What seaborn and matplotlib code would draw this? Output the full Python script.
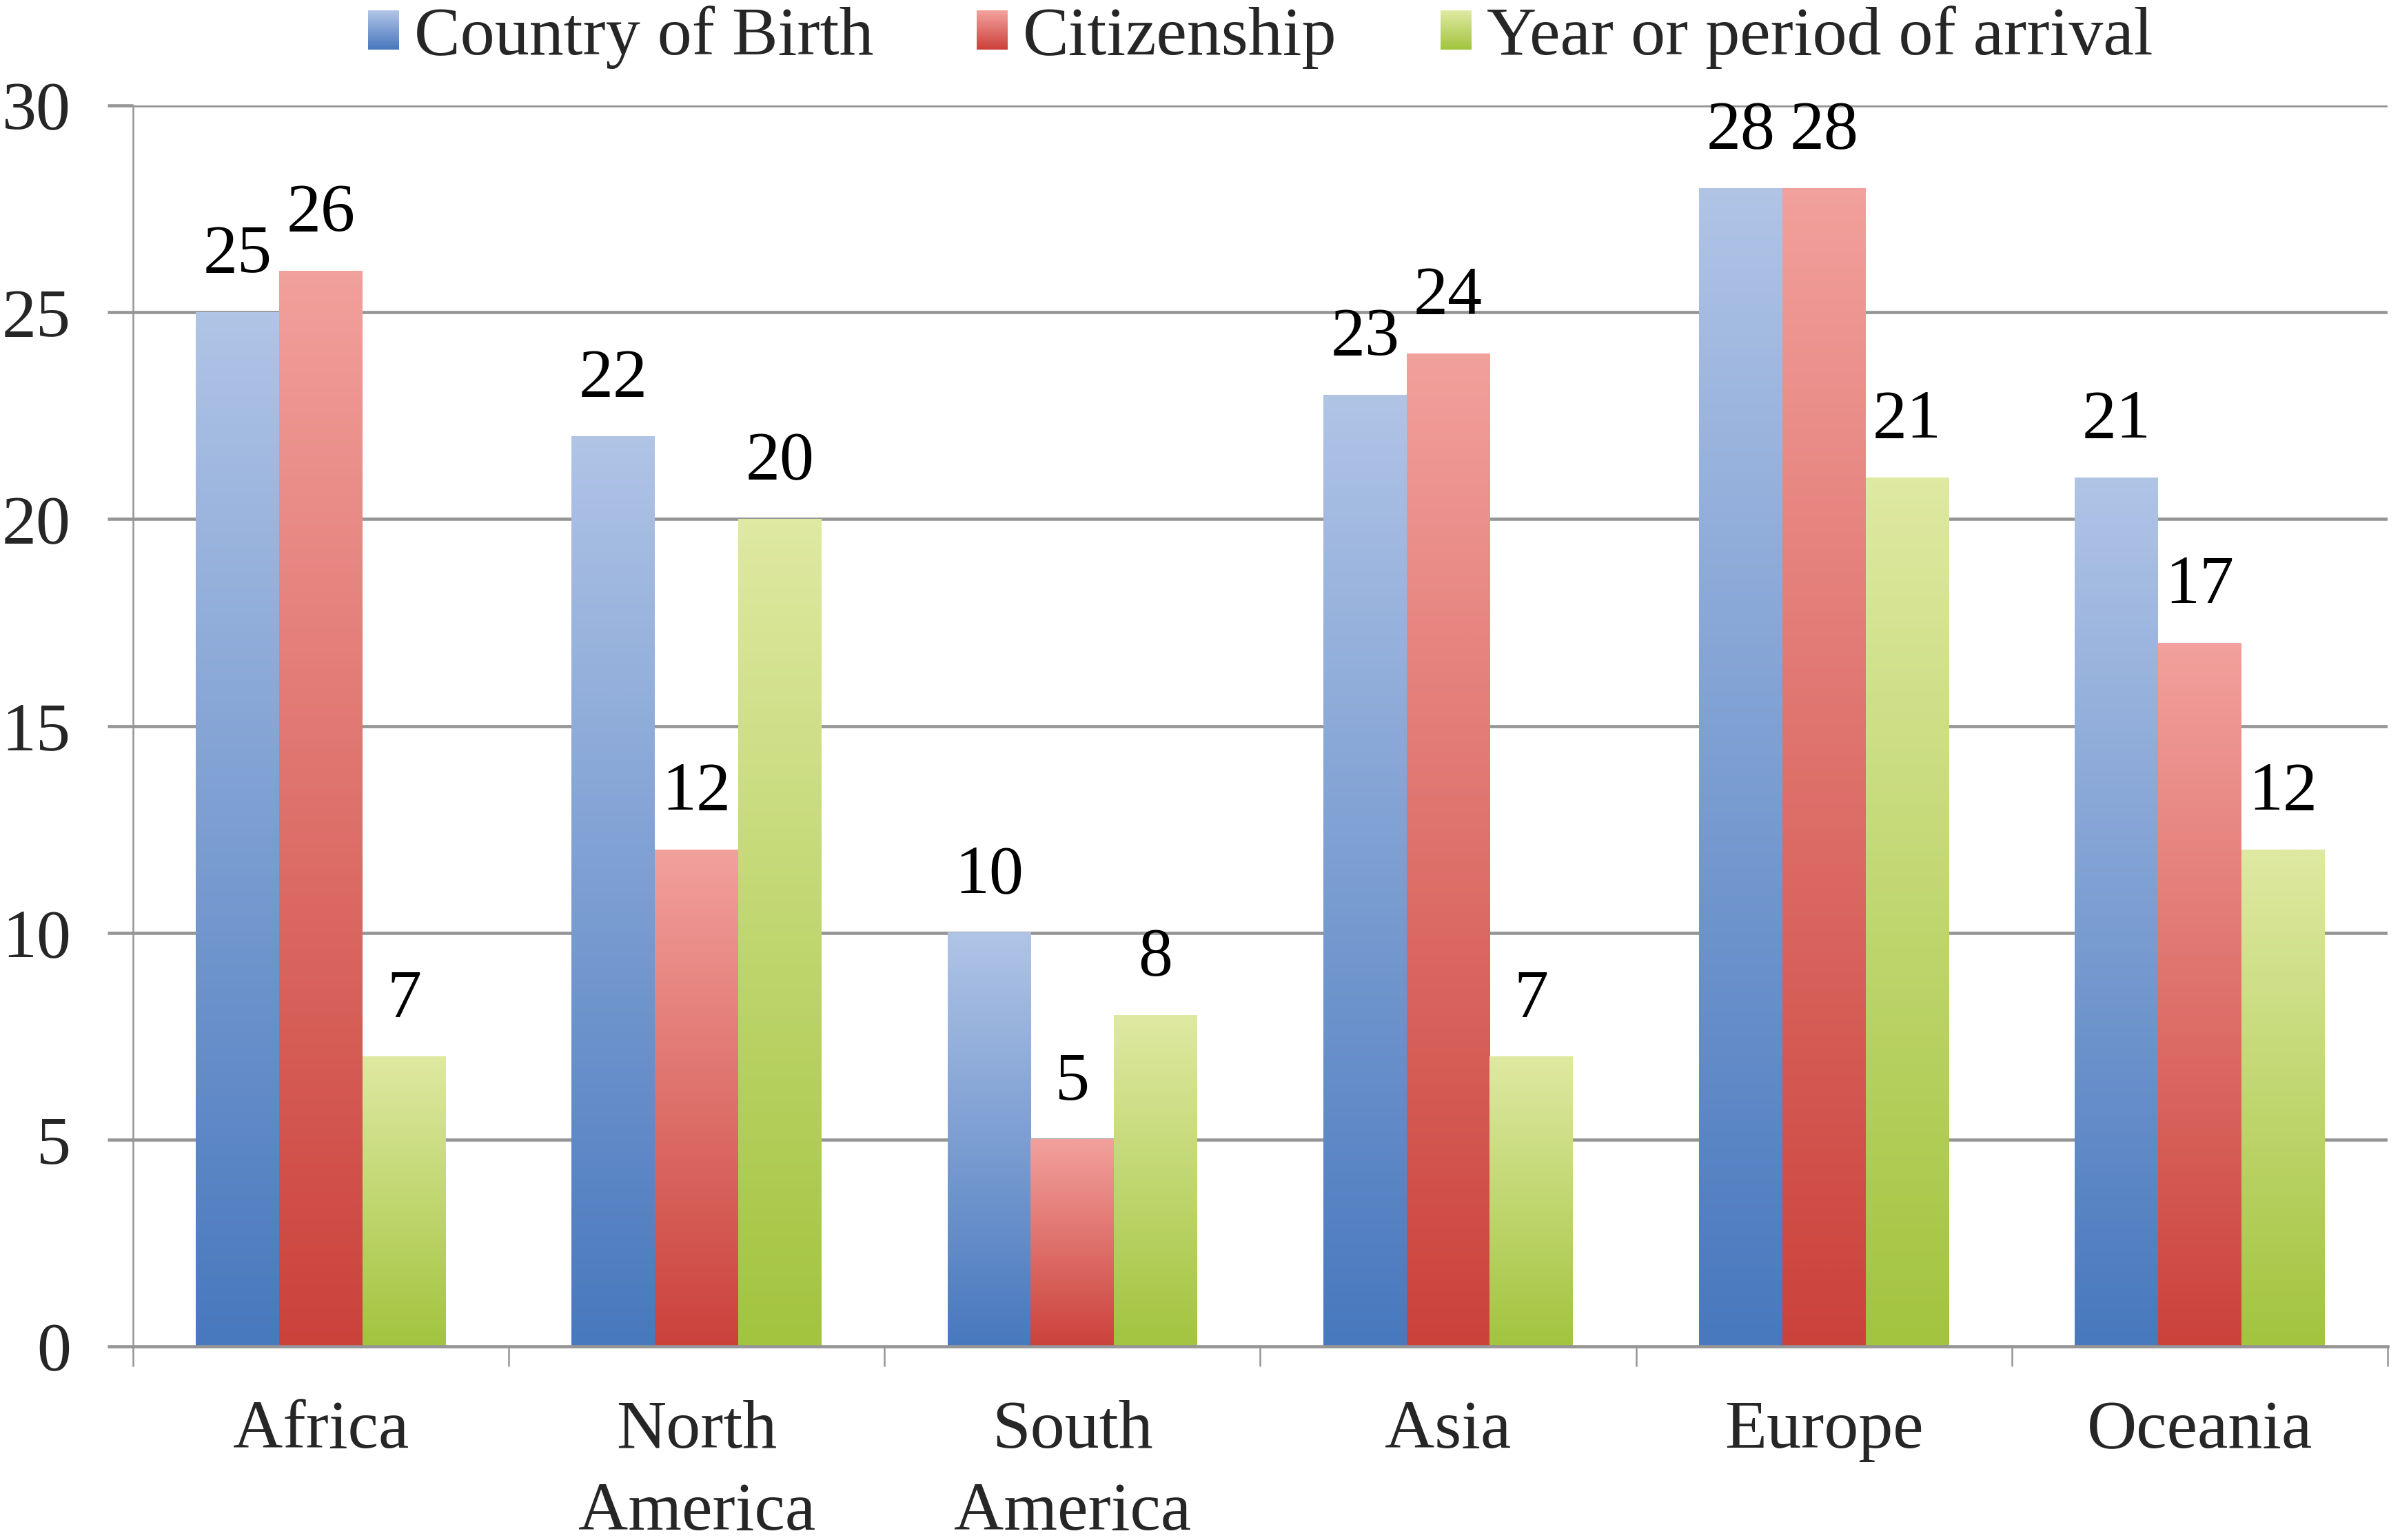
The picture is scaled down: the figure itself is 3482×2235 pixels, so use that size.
import numpy as np
import pandas as pd
import matplotlib
matplotlib.use("Agg")
import matplotlib.pyplot as plt
import matplotlib.transforms as mtransforms
import seaborn as sns
from matplotlib.colors import LinearSegmentedColormap, to_rgb
from matplotlib.legend_handler import HandlerBase
from matplotlib.patches import Rectangle

# ---- data ----
regions = ["Africa", "North\nAmerica", "South\nAmerica", "Asia", "Europe", "Oceania"]
series = ["Country of Birth", "Citizenship", "Year or period of arrival"]
country_of_birth = [25, 22, 10, 23, 28, 21]
citizenship = [26, 12, 5, 24, 28, 17]
year_of_arrival = [7, 20, 8, 7, 21, 12]
y_ticks = [0, 5, 10, 15, 20, 25, 30]

# ---- style ----
top_colors = ["#B0C4E6", "#F2A09C", "#DFE9A2"]
bottom_colors = ["#4878BE", "#CB423B", "#A2C43E"]
FAMILY = ["Liberation Serif", "DejaVu Serif"]

sns.set_theme(style="white")
plt.rcParams["font.family"] = FAMILY
plt.rcParams["font.serif"] = FAMILY

df = pd.DataFrame({
    "region": regions * 3,
    "series": [series[0]] * 6 + [series[1]] * 6 + [series[2]] * 6,
    "value": country_of_birth + citizenship + year_of_arrival,
})

fig = plt.figure(figsize=(34.82, 22.35), dpi=100)
ax = fig.add_axes([0.0554, 0.1257, 0.9394, 0.8058])

sns.barplot(data=df, x="region", y="value", hue="series", order=regions,
            hue_order=series, width=0.665, ax=ax, legend=False,
            palette=bottom_colors, edgecolor="none", linewidth=0, zorder=3)

# gradient fill for each bar
for i, cont in enumerate(ax.containers):
    cmap = LinearSegmentedColormap.from_list(
        f"g{i}", [to_rgb(bottom_colors[i]), to_rgb(top_colors[i])])
    grad = np.linspace(1, 0, 256).reshape(-1, 1)
    for bar in cont:
        x0 = bar.get_x()
        w = bar.get_width()
        h = bar.get_height()
        bar.set_facecolor("none")
        ax.imshow(grad, extent=[x0, x0 + w, 0, h], aspect="auto", cmap=cmap,
                  vmin=0, vmax=1, zorder=3, interpolation="bilinear")
        ax.annotate(f"{int(round(h))}", (x0 + w / 2, h), xytext=(0, 42),
                    textcoords="offset points", ha="center", va="baseline",
                    fontsize=72, family=FAMILY, color="black", zorder=5,
                    annotation_clip=False)

ax.set_xlim(-0.5, len(regions) - 0.5)
ax.set_ylim(0, 30)
ax.set_yticks(y_ticks)
ax.set_yticklabels([str(t) for t in y_ticks], family=FAMILY)
ax.set_xlabel("")
ax.set_ylabel("")

grid_color = "#959595"
ax.grid(False)
for t in y_ticks[1:]:
    ax.axhline(t, color=grid_color, lw=3.3, zorder=1)

for s in ["top", "right"]:
    ax.spines[s].set_visible(False)
ax.spines["left"].set_color(grid_color)
ax.spines["left"].set_linewidth(1.8)
ax.spines["bottom"].set_color(grid_color)
ax.spines["bottom"].set_linewidth(3.3)
ax.spines["bottom"].set_zorder(4)

ax.tick_params(axis="y", which="major", length=27, width=3.3, color=grid_color,
               pad=38, labelsize=72, left=True)
ax.set_xticks(range(len(regions)))
ax.set_xticks(np.arange(-0.5, len(regions), 1.0), minor=True)
ax.tick_params(axis="x", which="major", length=0, pad=56, labelsize=72)
ax.tick_params(axis="x", which="minor", length=21, width=1.8, color=grid_color,
               bottom=True)
for lbl in ax.get_xticklabels():
    lbl.set_family(FAMILY)
    lbl.set_linespacing(1.42)
    lbl.set_va("top")


class GradHandler(HandlerBase):
    def __init__(self, top, bottom, n=24):
        super().__init__()
        self.top = np.array(to_rgb(top))
        self.bottom = np.array(to_rgb(bottom))
        self.n = n

    def create_artists(self, legend, orig_handle, xdescent, ydescent, width,
                       height, fontsize, trans):
        arts = []
        for k in range(self.n):
            f = k / (self.n - 1)
            c = self.bottom * (1 - f) + self.top * f
            r = Rectangle((-xdescent, -ydescent + height * k / self.n), width,
                          height / self.n * 1.05, facecolor=c, edgecolor="none",
                          transform=trans)
            arts.append(r)
        return arts


handles = [Rectangle((0, 0), 1, 1) for _ in series]
hmap = {h: GradHandler(top_colors[i], bottom_colors[i]) for i, h in enumerate(handles)}
blend = mtransforms.blended_transform_factory(ax.transAxes, fig.transFigure)
leg = ax.legend(handles, series, handler_map=hmap, loc="center",
                bbox_to_anchor=(0.5, (2235 - 54) / 2235), bbox_transform=blend,
                ncol=3, frameon=False, prop={"family": FAMILY, "size": 72},
                handlelength=0.45, handleheight=0.5, handletextpad=0.22,
                columnspacing=1.5, borderpad=0, borderaxespad=0)

fig.savefig("out.png", dpi=100)
